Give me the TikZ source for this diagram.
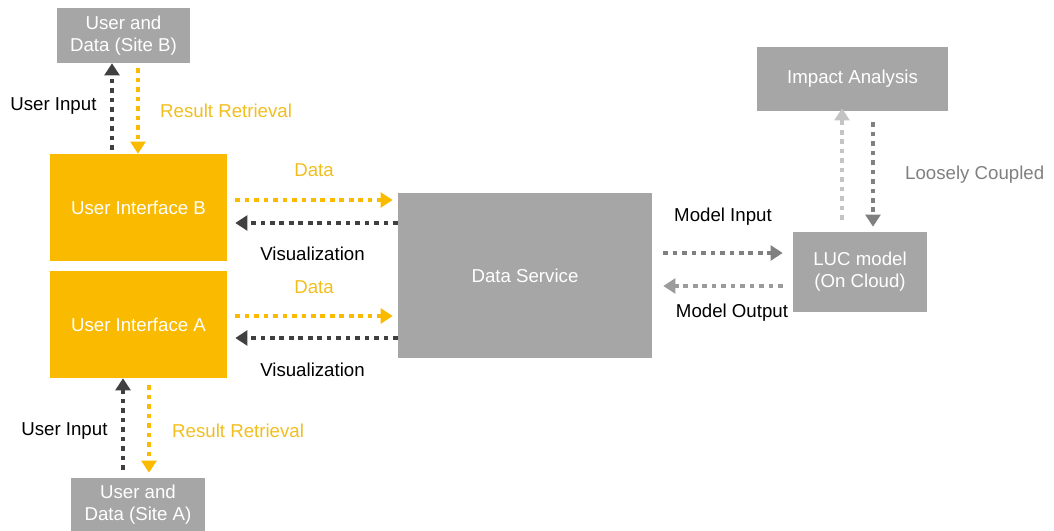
\documentclass[tikz,border=0pt]{standalone}
\usepackage{fontspec}
\setmainfont{Liberation Sans}
\usetikzlibrary{arrows.meta, calc}
\definecolor{jaune}{RGB}{250,186,0}
\definecolor{jaunetexte}{RGB}{242,190,30}
\definecolor{gris}{RGB}{166,166,166}
\definecolor{sombre}{RGB}{64,64,64}
\definecolor{grismoyen}{RGB}{128,128,128}
\definecolor{grisclair}{RGB}{155,155,155}
\definecolor{grispale}{RGB}{196,196,196}

\begin{document}
\begin{tikzpicture}[x=0.75pt, y=-0.75pt, font=\fontsize{14}{16.5}\selectfont,
    boite/.style={rectangle, inner sep=0pt, text=white, align=center},
    grise/.style={boite, fill=gris},
    jaunebox/.style={boite, fill=jaune},
    fleche/.style={line width=3.3pt, dash pattern=on 3.5pt off 3.6pt, -{Triangle[width=11pt,length=9pt]}},
    etiquette/.style={inner sep=0pt}]
    \useasboundingbox (0,0) rectangle (1054,531);

    %les boites
    \node[grise, minimum width=99.75pt, minimum height=41.25pt] (siteB) at (123.5,35.5) {User and\\Data (Site B)};
    \node[jaunebox, minimum width=132.75pt, minimum height=80.25pt] (uiB) at (138.5,207.5) {User Interface B};
    \node[jaunebox, minimum width=132.75pt, minimum height=80.25pt] (uiA) at (138.5,324.5) {User Interface A};
    \node[grise, minimum width=100.5pt, minimum height=39.75pt] (siteA) at (138,504.5) {User and\\Data (Site A)};
    \node[grise, minimum width=190.5pt, minimum height=123.75pt] (ds) at (525,275.5) {Data Service};
    \node[grise, minimum width=100.5pt, minimum height=60pt] (luc) at (860,272) {LUC model\\(On Cloud)};
    \node[grise, minimum width=143.25pt, minimum height=48pt] (impact) at (852.5,79) {Impact Analysis};

    %site B
    \draw[fleche, sombre] ($(uiB.north)+(-26.5,-4)$) -- node[etiquette, midway, anchor=east, xshift=-10pt, black] (uinB) {User Input} ($(siteB.south)+(-11.5,0)$);
    \draw[fleche, jaune] ($(siteB.south)+(14.5,5)$) -- node[etiquette, midway, anchor=west, xshift=15pt, text=jaunetexte] (rrB) {Result Retrieval} ($(uiB.north)+(-0.5,0)$);

    %site A
    \draw[fleche, sombre] ($(siteA.north)+(-15,-8)$) -- node[etiquette, midway, anchor=east, xshift=-10pt, yshift=-5.25pt, black] (uinA) {User Input} ($(uiA.south)+(-15.5,0)$);
    \draw[fleche, jaune] ($(uiA.south)+(10.5,7)$) -- node[etiquette, midway, anchor=west, xshift=15.75pt, yshift=-1.5pt, text=jaunetexte] (rrA) {Result Retrieval} ($(siteA.north)+(11,-5)$);

    %data et visualization
    \draw[fleche, jaune] ($(uiB.east)+(8,-7.5)$) -- node[etiquette, midway, yshift=22.5pt, text=jaunetexte] (dataB) {Data} ($(uiB.east -| ds.west)+(-5,-7.5)$);
    \draw[fleche, sombre] ($(uiB.east -| ds.west)+(0,15.5)$) -- node[etiquette, midway, yshift=-23.25pt, xshift=-3pt, black] (visB) {Visualization} ($(uiB.east)+(8,15.5)$);
    \draw[fleche, jaune] ($(uiA.east)+(8,-8.5)$) -- node[etiquette, midway, yshift=21.75pt, text=jaunetexte] (dataA) {Data} ($(uiA.east -| ds.west)+(-5,-8.5)$);
    \draw[fleche, sombre] ($(uiA.east -| ds.west)+(0,13.5)$) -- node[etiquette, midway, yshift=-24pt, xshift=-3pt, black] (visA) {Visualization} ($(uiA.east)+(8,13.5)$);

    %modele
    \draw[fleche, grismoyen] ($(ds.east |- luc.west)+(11,-19)$) -- node[etiquette, midway, yshift=27pt, black] (modin) {Model Input} ($(luc.west)+(-10,-19)$);
    \draw[fleche, grisclair] ($(luc.west)+(-10,14)$) -- node[etiquette, midway, yshift=-20.25pt, xshift=6.75pt, black] (modout) {Model Output} ($(ds.east |- luc.west)+(11,14)$);

    %impact analysis
    \draw[fleche, grispale] ($(luc.north)+(-18,-12)$) -- ($(impact.south)+(-10.5,-3)$);
    \draw[fleche, grismoyen] ($(impact.south)+(20.5,11)$) -- node[etiquette, midway, anchor=west, xshift=22.5pt, text=grismoyen] (loose) {Loosely Coupled} ($(luc.north)+(13,-5)$);
\end{tikzpicture}
\end{document}
